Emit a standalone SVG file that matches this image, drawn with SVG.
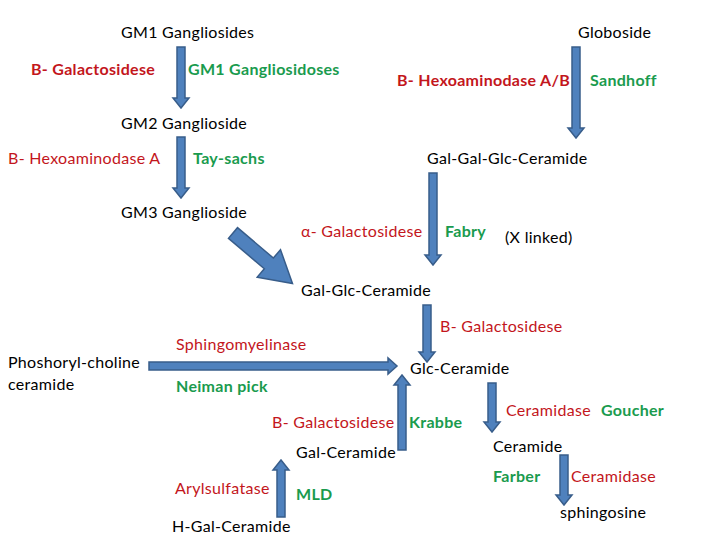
<svg xmlns="http://www.w3.org/2000/svg" width="720" height="540" viewBox="0 0 720 540">
<style>
text{font-family:Lato,"Liberation Sans",sans-serif;font-size:16px;letter-spacing:0.3px;fill:#000}
.r{fill:#C3161C}
.g{fill:#1A9B4E;font-weight:bold}
.rb{fill:#C3161C;font-weight:bold}
.arr{fill:#4F81BD;stroke:#385D8A;stroke-width:1.5;stroke-linejoin:miter}
</style>
<rect width="720" height="540" fill="#fff"/>
<g id="connectors">
<path class="arr" d="M177,47H185V98H189L181,108L173,98H177Z"/>
<path class="arr" d="M177,137H185V188H189L181,198L173,188H177Z"/>
<path class="arr" d="M572,47H580V128H584L576,138L568,128H572Z"/>
<path class="arr" d="M429,173H437V255H441L433,265L425,255H429Z"/>
<path class="arr" transform="translate(233,233) rotate(40.3)" d="M0,-7H47V-18L78,0L47,18V7H0Z"/>
<path class="arr" d="M149,362H388V358L397,366L388,374V370H149Z"/>
<path class="arr" d="M423,305H431V352H435L427,362L419,352H423Z"/>
<path class="arr" d="M398,450H406V385H410L402,375L394,385H398Z"/>
<path class="arr" d="M488,383H496V422H500L492,432L484,422H488Z"/>
<path class="arr" d="M560,455H568V495H572L564,505L556,495H560Z"/>
<path class="arr" d="M277,517H285V470H289L281,460L273,470H277Z"/>
</g>
<g id="gm1"><text x="121" y="38">GM1 Gangliosides</text></g>
<g id="enz1"><text class="rb" x="31" y="75">B- Galactosidese</text></g>
<g id="dis1"><text class="g" x="188" y="75">GM1 Gangliosidoses</text></g>
<g id="globoside"><text x="578" y="38">Globoside</text></g>
<g id="enz2"><text class="rb" x="397" y="86">B- Hexoaminodase A/B</text></g>
<g id="dis2"><text class="g" x="590" y="86">Sandhoff</text></g>
<g id="gm2"><text x="121" y="129">GM2 Ganglioside</text></g>
<g id="enz3"><text class="r" x="8" y="164">B- Hexoaminodase A</text></g>
<g id="dis3"><text class="g" x="193" y="164">Tay-sachs</text></g>
<g id="galgalglc"><text x="427" y="164">Gal-Gal-Glc-Ceramide</text></g>
<g id="gm3"><text x="121" y="218">GM3 Ganglioside</text></g>
<g id="enz4"><text class="r" x="301" y="237">α- Galactosidese</text></g>
<g id="dis4"><text class="g" x="445" y="237">Fabry</text></g>
<g id="xlinked"><text x="505" y="243">(X linked)</text></g>
<g id="galglc"><text x="301" y="296">Gal-Glc-Ceramide</text></g>
<g id="enz5"><text class="r" x="440" y="332">B- Galactosidese</text></g>
<g id="enz6"><text class="r" x="176" y="350">Sphingomyelinase</text></g>
<g id="phos"><text x="8" y="368">Phoshoryl-choline</text><text x="8" y="390">ceramide</text></g>
<g id="glc"><text x="410" y="374">Glc-Ceramide</text></g>
<g id="dis6"><text class="g" x="176" y="392">Neiman pick</text></g>
<g id="enz7"><text class="r" x="272" y="428">B- Galactosidese</text></g>
<g id="dis7"><text class="g" x="409" y="428">Krabbe</text></g>
<g id="enz8"><text class="r" x="506" y="416">Ceramidase</text></g>
<g id="dis8"><text class="g" x="601" y="416">Goucher</text></g>
<g id="galcer"><text x="296" y="458">Gal-Ceramide</text></g>
<g id="ceramide"><text x="493" y="452">Ceramide</text></g>
<g id="dis9"><text class="g" x="493" y="482">Farber</text></g>
<g id="enz9"><text class="r" x="571" y="482">Ceramidase</text></g>
<g id="enz10"><text class="r" x="175" y="494">Arylsulfatase</text></g>
<g id="dis10"><text class="g" x="296" y="500">MLD</text></g>
<g id="hgal"><text x="172" y="532">H-Gal-Ceramide</text></g>
<g id="sphingosine"><text x="560" y="518">sphingosine</text></g>
</svg>
